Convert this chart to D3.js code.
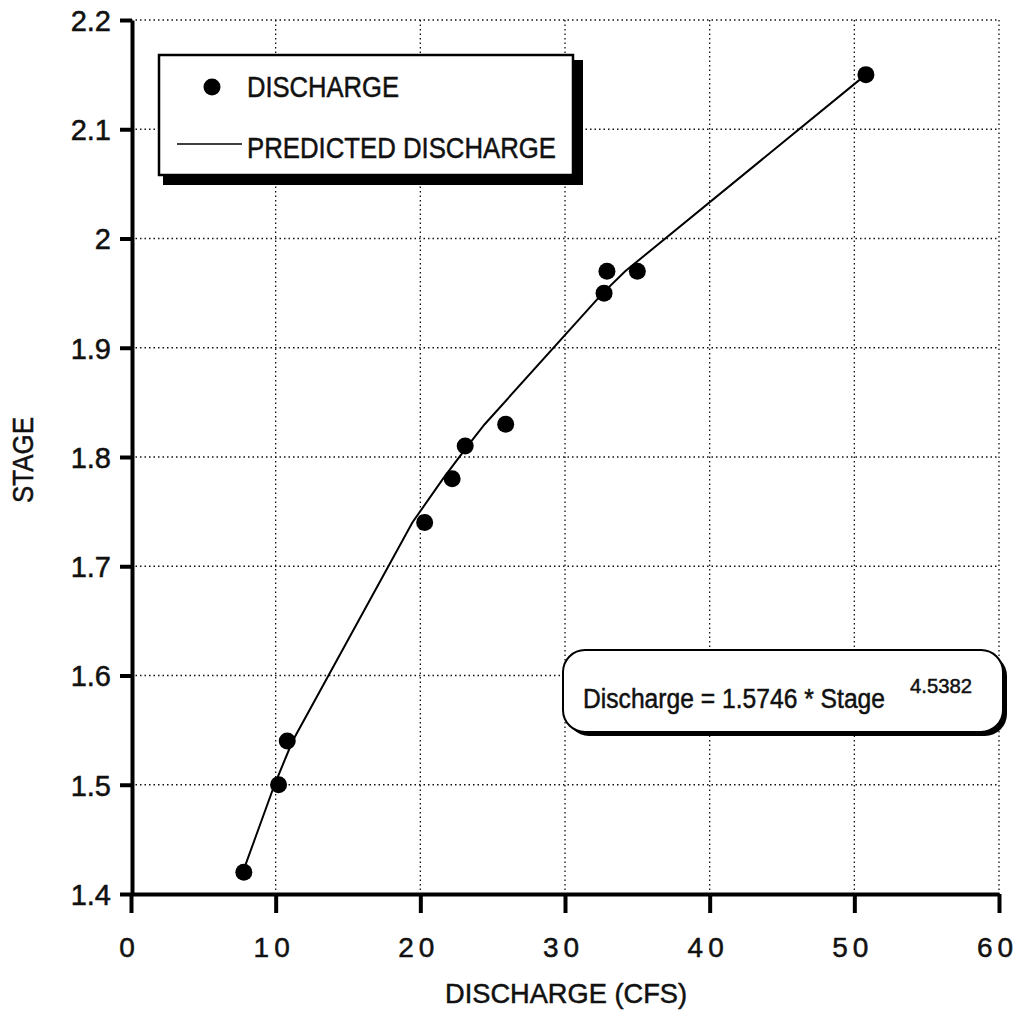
<!DOCTYPE html>
<html>
<head>
<meta charset="utf-8">
<script src="https://cdn.jsdelivr.net/npm/d3@7"></script>
<style>
  html, body { margin: 0; padding: 0; background: #fff; }
  svg { display: block; font-family: "Liberation Sans", Arial, Helvetica, sans-serif; }
  text { stroke: #111; stroke-width: 0.5px; }
</style>
</head>
<body>
<svg id="chart" width="1019" height="1014"></svg>
<script>
// Observed stage / discharge pairs
const discharge = [7.8, 10.2, 10.8, 20.3, 22.2, 23.1, 25.9, 32.7, 32.9, 35.0, 50.8];
const stage     = [1.42, 1.50, 1.54, 1.74, 1.78, 1.81, 1.83, 1.95, 1.97, 1.97, 2.15];
// Rating-curve discharge at each observed stage
const predicted = [7.73, 9.92, 11.17, 19.45, 21.56, 23.26, 24.45, 32.61, 34.16, 34.16, 50.80];

const xTicks = [0, 10, 20, 30, 40, 50, 60];
const yTicks = [1.4, 1.5, 1.6, 1.7, 1.8, 1.9, 2.0, 2.1, 2.2];
const yTickLabels = ["1.4", "1.5", "1.6", "1.7", "1.8", "1.9", "2", "2.1", "2.2"];

const legendLabels = ["DISCHARGE", "PREDICTED DISCHARGE"];
const equationText = "Discharge = 1.5746 * Stage";
const equationExponent = "4.5382";

const svg = d3.select("#chart");
const x = d3.scaleLinear().domain([0, 60]).range([131, 999]);
const y = d3.scaleLinear().domain([1.4, 2.2]).range([894, 20]);

// Dotted grid
const grid = svg.append("g").attr("stroke", "#111").attr("stroke-width", 1.3)
  .attr("stroke-dasharray", "1.5,3");
grid.selectAll("line.v").data(xTicks.slice(1)).join("line")
  .attr("x1", d => x(d)).attr("x2", d => x(d))
  .attr("y1", y(2.2)).attr("y2", y(1.4));
grid.selectAll("line.h").data(yTicks.slice(1)).join("line")
  .attr("y1", d => y(d)).attr("y2", d => y(d))
  .attr("x1", x(0)).attr("x2", x(60));

// Axes
const xAxis = svg.append("g").attr("transform", `translate(0,${y(1.4)})`)
  .call(d3.axisBottom(x).tickValues(xTicks).tickSize(19).tickSizeOuter(0).tickFormat(d3.format("d")));
const yAxis = svg.append("g").attr("transform", `translate(${x(0) + 1},0)`)
  .call(d3.axisLeft(y).tickValues(yTicks).tickSize(12).tickSizeOuter(0)
    .tickFormat((d, i) => yTickLabels[i]));

[xAxis, yAxis].forEach(g => {
  g.select(".domain").attr("stroke", "#000").attr("stroke-width", 4);
  g.selectAll(".tick line").attr("stroke", "#000").attr("stroke-width", 4);
  g.selectAll(".tick text").attr("fill", "#111")
    .attr("font-family", "'Liberation Sans', Arial, sans-serif");
});
xAxis.selectAll(".tick text").attr("font-size", 28).attr("letter-spacing", "5px")
  .attr("dx", "-2px").attr("y", 63).attr("dy", 0);
yAxis.selectAll(".tick text").attr("font-size", 29).attr("x", -21).attr("dy", "0.36em");

// Axis titles
svg.append("text").attr("x", 445).attr("y", 1003).attr("font-size", 28)
  .attr("textLength", 242).attr("lengthAdjust", "spacingAndGlyphs")
  .attr("fill", "#111").text("DISCHARGE (CFS)");
svg.append("text").attr("transform", "translate(33,460) rotate(-90)")
  .attr("text-anchor", "middle").attr("font-size", 30)
  .attr("textLength", 86).attr("lengthAdjust", "spacingAndGlyphs")
  .attr("fill", "#111").text("STAGE");

// Predicted rating curve
const line = d3.line().x(d => x(d[0])).y(d => y(d[1]));
svg.append("path").datum(predicted.map((p, i) => [p, stage[i]]))
  .attr("d", line).attr("fill", "none").attr("stroke", "#000").attr("stroke-width", 2);

// Observed points
svg.append("g").selectAll("circle").data(discharge.map((q, i) => [q, stage[i]])).join("circle")
  .attr("cx", d => x(d[0])).attr("cy", d => y(d[1])).attr("r", 8.5).attr("fill", "#000");

// Legend box with drop shadow
const lg = svg.append("g");
lg.append("rect").attr("x", 163).attr("y", 60).attr("width", 420).attr("height", 125).attr("fill", "#000");
lg.append("rect").attr("x", 159).attr("y", 55).attr("width", 414).attr("height", 120)
  .attr("fill", "#fff").attr("stroke", "#000").attr("stroke-width", 2.5);
lg.append("circle").attr("cx", 212).attr("cy", 87).attr("r", 8.5).attr("fill", "#000");
lg.append("line").attr("x1", 177).attr("x2", 242).attr("y1", 144).attr("y2", 144)
  .attr("stroke", "#000").attr("stroke-width", 1.5);
lg.append("text").attr("x", 247).attr("y", 97).attr("font-size", 30)
  .attr("textLength", 152).attr("lengthAdjust", "spacingAndGlyphs").attr("fill", "#111")
  .text(legendLabels[0]);
lg.append("text").attr("x", 247).attr("y", 158).attr("font-size", 30)
  .attr("textLength", 309).attr("lengthAdjust", "spacingAndGlyphs").attr("fill", "#111")
  .text(legendLabels[1]);

// Equation box
const eq = svg.append("g");
eq.append("rect").attr("x", 567).attr("y", 654).attr("width", 440).attr("height", 82)
  .attr("rx", 22).attr("fill", "#000");
eq.append("rect").attr("x", 563).attr("y", 650).attr("width", 440).attr("height", 82)
  .attr("rx", 22).attr("fill", "#fff").attr("stroke", "#000").attr("stroke-width", 2);
eq.append("text").attr("x", 583).attr("y", 708).attr("font-size", 27)
  .attr("textLength", 302).attr("lengthAdjust", "spacingAndGlyphs").attr("fill", "#111")
  .text(equationText);
eq.append("text").attr("x", 910).attr("y", 693).attr("font-size", 21)
  .attr("textLength", 62).attr("lengthAdjust", "spacingAndGlyphs").attr("fill", "#111")
  .text(equationExponent);
</script>
</body>
</html>
